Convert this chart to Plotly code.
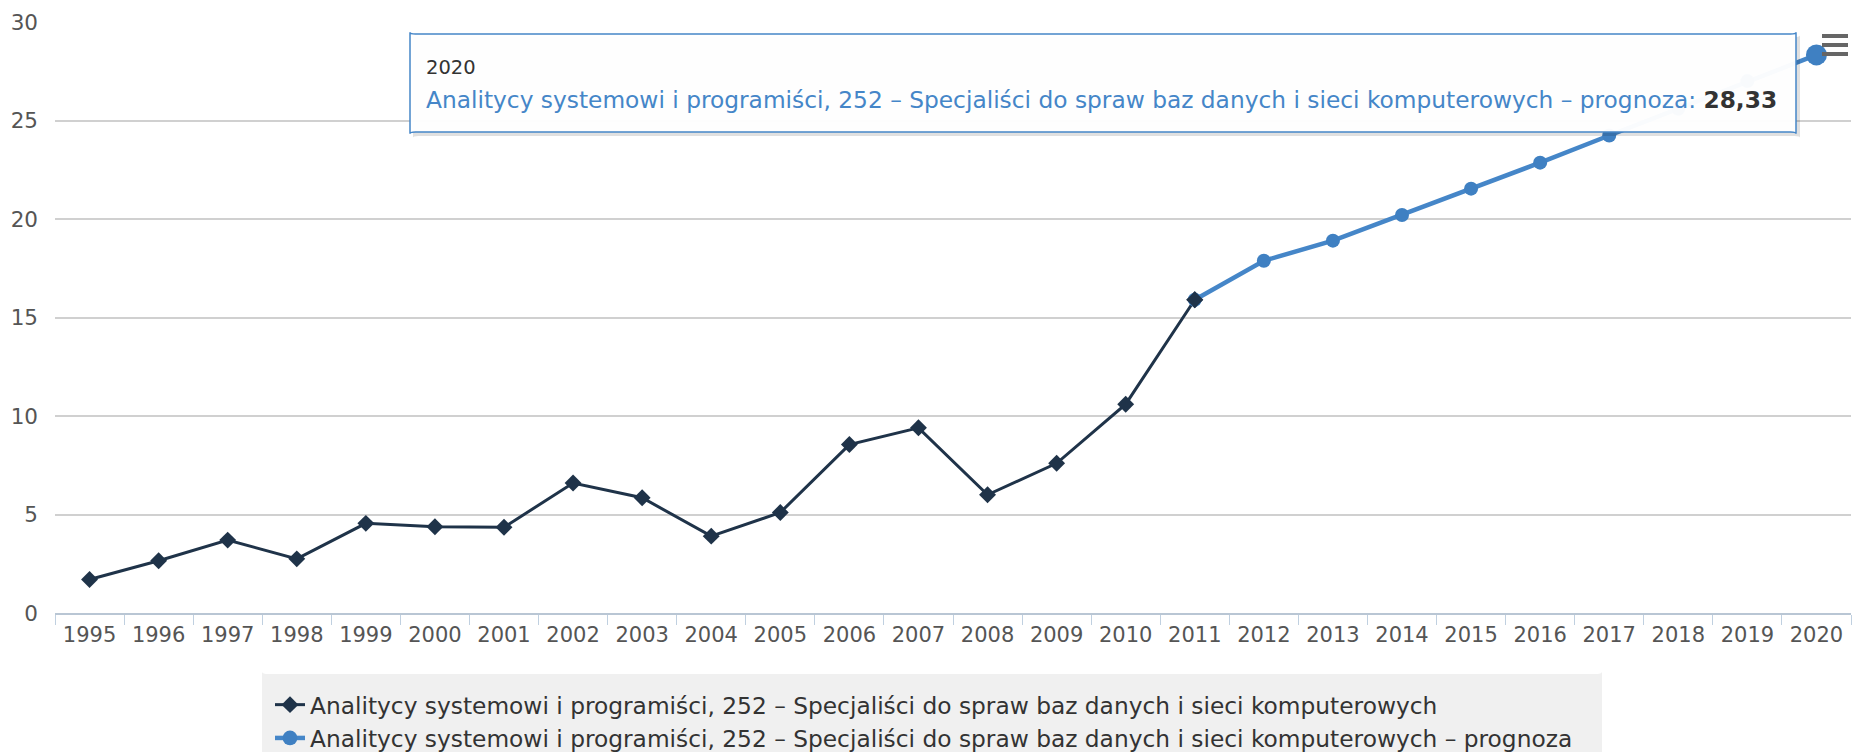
import plotly.graph_objects as go

W, H = 1853, 752
years = [str(y) for y in range(1995, 2021)]
hist_years = [str(y) for y in range(1995, 2012)]
hist_vals = [1.7, 2.65, 3.7, 2.75, 4.55, 4.38, 4.35, 6.6, 5.85, 3.9, 5.1, 8.55, 9.4, 6.0, 7.6, 10.6, 15.9]
fc_years = [str(y) for y in range(2011, 2021)]
fc_vals = [15.9, 17.88, 18.9, 20.2, 21.54, 22.86, 24.24, 25.6, 27.0, 28.33]
name_hist = "Analitycy systemowi i programiści, 252 – Specjaliści do spraw baz danych i sieci komputerowych"
name_fc = name_hist + " – prognoza"
y_ticks = [0, 5, 10, 15, 20, 25, 30]

DARK = "#1f3349"
BLUE = "#4586c8"
BLUE_MK = "#3f80c2"
FONT = "DejaVu Sans"

fig = go.Figure()
fig.add_trace(go.Scatter(
    x=hist_years, y=hist_vals, name=name_hist, mode="lines+markers",
    line=dict(color=DARK, width=3),
    marker=dict(symbol="diamond", size=13, color=DARK, line=dict(width=0)),
    legendgroup="a"))
sizes = [14] * (len(fc_vals) - 1) + [21]
fig.add_trace(go.Scatter(
    x=fc_years, y=fc_vals, name=name_fc, mode="lines+markers",
    line=dict(color=BLUE, width=4.5),
    marker=dict(symbol="circle", size=sizes, color=BLUE_MK, opacity=1, line=dict(width=0)),
    legendgroup="b"))

# keep the 2011 dark marker on top
fig.add_trace(go.Scatter(
    x=hist_years[-1:], y=hist_vals[-1:], mode="markers", showlegend=False,
    marker=dict(symbol="diamond", size=13, color=DARK)))

L, R, T, B = 55, 2, 22, 139
pw = W - L - R
ph = H - T - B

def px(xp):
    return (xp - L) / pw

def py(yp):
    return (H - B - yp) / ph

fig.update_layout(
    width=W, height=H,
    margin=dict(l=L, r=R, t=T, b=B, autoexpand=False),
    paper_bgcolor="white", plot_bgcolor="white",
    font=dict(family=FONT, size=23, color="#333333"),
    xaxis=dict(type="category", categoryorder="array", categoryarray=years,
               range=[-0.5, 25.5], showgrid=False, showline=True,
               linecolor="#b9c6d4", linewidth=2, ticks="outside",
               tickson="boundaries", ticklen=10, tickcolor="#c0d0e0",
               tickfont=dict(size=21, color="#555555"), zeroline=False,
               ticklabelstandoff=2),
    yaxis=dict(range=[0, 30], tickvals=y_ticks, showgrid=True,
               gridcolor="#d0d0d0", gridwidth=1.5, zeroline=False,
               tickfont=dict(size=21.5, color="#555555"), ticks="",
               ticklabelstandoff=16),
    legend=dict(xref="container", yref="container", x=270 / W, y=1 - 683 / H,
                xanchor="left", yanchor="top", bgcolor="rgba(0,0,0,0)",
                font=dict(size=23.3, color="#333333"), tracegroupgap=0,
                itemwidth=30),
    showlegend=True,
    hovermode=False,
)

def rounded(x0, y0, x1, y1, r):
    return (f"M{x0+r},{y0} L{x1-r},{y0} Q{x1},{y0} {x1},{y0+r} L{x1},{y1-r} "
            f"Q{x1},{y1} {x1-r},{y1} L{x0+r},{y1} Q{x0},{y1} {x0},{y1-r} "
            f"L{x0},{y0+r} Q{x0},{y0} {x0+r},{y0} Z")

# legend background (rounded)
fig.add_shape(type="path", xref="paper", yref="paper", layer="below",
              path=rounded(px(262), py(674), px(1602), py(770), 0.004),
              fillcolor="#f0f0f0", line=dict(width=0))

# tooltip box with shadow
fig.add_shape(type="path", xref="paper", yref="paper",
              path=rounded(px(413), py(37), px(1800), py(136), 0.003),
              fillcolor="rgba(0,0,0,0.12)", line=dict(width=0))
fig.add_shape(type="path", xref="paper", yref="paper",
              path=rounded(px(410), py(34), px(1796), py(132), 0.003),
              fillcolor="rgba(255,255,255,0.97)", line=dict(color=BLUE, width=1.5))
fig.add_annotation(xref="paper", yref="paper", x=px(424), y=py(67),
                   xanchor="left", yanchor="middle", showarrow=False,
                   text="2020", font=dict(size=19.5, color="#333333"))
fig.add_annotation(xref="paper", yref="paper", x=px(424), y=py(100),
                   xanchor="left", yanchor="middle", showarrow=False,
                   text=f"<span style='color:{BLUE}'>{name_fc}: </span><b>28,33</b>",
                   font=dict(size=23.3, color="#333333"))

# export menu icon
for yy in (36, 45, 54):
    fig.add_shape(type="line", xref="paper", yref="paper",
                  x0=px(1822), x1=px(1848), y0=py(yy), y1=py(yy),
                  line=dict(color="#666666", width=4))

fig.write_html("out.html", config={"displayModeBar": False},
               post_script="document.body.style.margin='0';")
